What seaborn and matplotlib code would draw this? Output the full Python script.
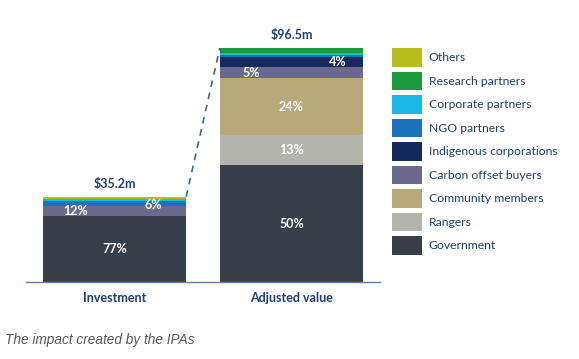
import matplotlib
matplotlib.use("Agg")
import matplotlib.pyplot as plt
import seaborn as sns
import numpy as np
from matplotlib.patches import Patch

# data: share (%) of each group in the two totals ($m)
categories = ["Investment", "Adjusted value"]
totals = [35.2, 96.5]
groups = ["Government", "Rangers", "Community members", "Carbon offset buyers",
          "Indigenous corporations", "NGO partners", "Corporate partners",
          "Research partners", "Others"]
investment_pct = [77, 0, 0, 12, 0, 6, 2, 0, 3]
adjusted_pct = [50, 13, 24, 5, 4, 1, 1, 2, 0]
colors = ["#363f4a", "#b3b5ac", "#b8a97a", "#6b6a8e", "#14295c",
          "#1a72bb", "#1ab8e8", "#1a9a3c", "#b5be1e"]
investment_labels = {"Government": "77%", "Carbon offset buyers": "12%", "NGO partners": "6%"}
adjusted_labels = {"Government": "50%", "Rangers": "13%", "Community members": "24%",
                   "Carbon offset buyers": "5%", "Indigenous corporations": "4%"}

navy = "#1d3e6e"
sns.set_style("white")
plt.rcParams["font.family"] = ["Lato", "DejaVu Sans"]

fig = plt.figure(figsize=(5.79, 3.59), dpi=100)
ax = fig.add_axes([26/579, 77/359, 354/579, 254.6/359])

vals = np.array([investment_pct, adjusted_pct], dtype=float) / 100 * np.array(totals)[:, None]
cum = vals.cumsum(axis=1)
bw = 0.81
# overlay cumulative bars from the top segment down
for i in range(len(groups) - 1, -1, -1):
    sns.barplot(x=categories, y=cum[:, i], color=colors[i], saturation=1,
                width=bw, linewidth=0, ax=ax, order=categories)

# segment labels
label_pos = {
    (0, "Government"): 0.0, (0, "Carbon offset buyers"): -0.22, (0, "NGO partners"): 0.22,
    (1, "Government"): 0.0, (1, "Rangers"): 0.0, (1, "Community members"): 0.0,
    (1, "Carbon offset buyers"): -0.23, (1, "Indigenous corporations"): 0.26,
}
for ci, labs in enumerate([investment_labels, adjusted_labels]):
    for g, txt in labs.items():
        gi = groups.index(g)
        bottom = cum[ci, gi] - vals[ci, gi]
        ymid = bottom + vals[ci, gi] / 2
        dx = label_pos[(ci, g)]
        if g == "NGO partners":
            ymid = bottom + 0.3
        ax.text(ci + dx, ymid, txt, ha="center", va="center", color="white",
                fontsize=9, fontweight="bold")

for ci, t in enumerate(totals):
    ax.text(ci, t + 2.8, f"${t}m", ha="center", va="bottom", color=navy,
            fontsize=9, fontweight="bold")

ax.plot([0 + bw/2, 1 - bw/2], [totals[0], totals[1]], color="#3f6391",
        lw=1.2, dashes=(4, 3.5), clip_on=False)

ax.set_xlim(-0.5, 1.5)
ax.set_ylim(0, 105)
ax.set_yticks([])
ax.set_ylabel("")
ax.tick_params(axis="x", length=0, pad=7)
for lab in ax.get_xticklabels():
    lab.set_color(navy)
    lab.set_fontweight("bold")
    lab.set_fontsize(9)
sns.despine(ax=ax, left=True)
ax.spines["bottom"].set_color("#5a7fa8")
ax.spines["bottom"].set_linewidth(1.0)

handles = [Patch(facecolor=colors[i], edgecolor="none", label=groups[i])
           for i in range(len(groups) - 1, -1, -1)]
fig.legend(handles=handles, loc="upper left", bbox_to_anchor=(392/579, 1 - 48/359),
           frameon=False, fontsize=8.7, handlelength=2.45, handleheight=2.0,
           labelspacing=0.4, handletextpad=0.6, borderpad=0, borderaxespad=0,
           labelcolor=navy)

fig.text(5/579, 1 - 340/359, "The impact created by the IPAs", ha="left", va="center",
         fontsize=9.8, style="italic", color="#555555", family="Liberation Sans")

fig.savefig("out.png", dpi=100)
